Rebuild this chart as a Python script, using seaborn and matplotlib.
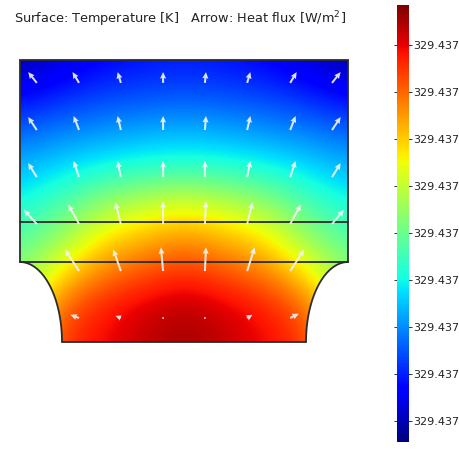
import numpy as np
import matplotlib
matplotlib.use("Agg")
import matplotlib.pyplot as plt
import seaborn as sns
from matplotlib.path import Path
from matplotlib.patches import PathPatch

sns.set_theme(style="white")
plt.rcParams["font.family"] = ["DejaVu Sans"]

# ---------------- data ----------------
TITLE = "Surface: Temperature [K]   Arrow: Heat flux [W/m$^{2}$]"

# geometry (units; 1 unit = 41 px in the reference)
DOMAIN_WIDTH = 8.0
DOMAIN_HEIGHT = 6.878
LAYER_LINES_Y = [1.951, 2.927]          # the two horizontal interfaces
FILLET_A = 1.024                        # quarter-ellipse cut-outs (x half-axis)
FILLET_B = 1.951                        # (y half-axis)

# normalized temperature levels (rows top -> bottom)
GRID_X = [0, 1, 2, 3, 4, 5, 6, 7, 8]
TEMP_LEVELS = [
    [0.04, 0.08, 0.12, 0.14, 0.15, 0.14, 0.12, 0.08, 0.04],
    [0.12, 0.16, 0.19, 0.20, 0.21, 0.20, 0.19, 0.16, 0.12],
    [0.22, 0.25, 0.27, 0.29, 0.30, 0.29, 0.27, 0.25, 0.22],
    [0.30, 0.34, 0.37, 0.39, 0.40, 0.39, 0.37, 0.34, 0.30],
    [0.37, 0.43, 0.52, 0.57, 0.61, 0.57, 0.52, 0.43, 0.37],
    [0.45, 0.53, 0.66, 0.71, 0.75, 0.71, 0.66, 0.53, 0.45],
    [0.50, 0.66, 0.77, 0.82, 0.86, 0.82, 0.77, 0.66, 0.50],
    [0.58, 0.80, 0.88, 0.92, 0.95, 0.92, 0.88, 0.80, 0.58],
    [0.62, 0.86, 0.90, 0.94, 0.97, 0.94, 0.90, 0.86, 0.62],
]
T_MIN = 329.43680
T_SPAN = 0.00040

# colorbar ticks
CBAR_TICK_FRACTIONS = [0.048, 0.156, 0.263, 0.371, 0.478, 0.586, 0.694, 0.801, 0.909]
CBAR_TICK_LABELS = ["329.437"] * 9

# heat flux arrows (tail positions, and components in px of the reference)
ARROW_X = [0.41, 1.44, 2.46, 3.49, 4.51, 5.54, 6.59, 7.61]
ARROW_Y = [6.32, 5.17, 4.02, 2.88, 1.73, 0.585]
FLUX_U = [
    [-8, -6, -3, 0, 1, 3, 6, 8],
    [-8, -5, -3, 0, 1, 3, 5, 8],
    [-8, -5, -3, 0, 0, 3, 5, 8],
    [-12, -10, -5, 0, 1, 5, 10, 11],
    [None, -13, -7, -2, 1, 7, 13, None],
    [None, -8, -5, 0, 0, 5, 8, None],
]
FLUX_V = [
    [10, 10, 10, 10, 10, 10, 10, 10],
    [12, 13, 13, 13, 13, 13, 13, 12],
    [13, 15, 15, 15, 15, 15, 15, 13],
    [13, 18, 20, 21, 21, 20, 18, 13],
    [None, 20, 20, 22, 22, 22, 20, None],
    [None, 3, 2, 0.5, 0.5, 3, 4, None],
]

# ---------------- figure ----------------
W, H = 460, 450
fig = plt.figure(figsize=(W / 100, H / 100), dpi=100)
fig.patch.set_facecolor("white")

ax = fig.add_axes([20 / W, (H - 342) / H, 328 / W, 282 / H])
ax.set_xlim(0, DOMAIN_WIDTH)
ax.set_ylim(0, DOMAIN_HEIGHT)
ax.axis("off")

# outline path of the domain
t = np.linspace(0, np.pi / 2, 60)
left_arc = np.column_stack([FILLET_A * np.sin(t), FILLET_B * np.cos(t)])
right_arc = np.column_stack([DOMAIN_WIDTH - FILLET_A * np.sin(t[::-1]),
                             FILLET_B * np.cos(t[::-1])])
verts = np.vstack([
    [[0, DOMAIN_HEIGHT], [0, FILLET_B]],
    left_arc,
    right_arc,
    [[DOMAIN_WIDTH, FILLET_B], [DOMAIN_WIDTH, DOMAIN_HEIGHT], [0, DOMAIN_HEIGHT]],
])
path = Path(verts, closed=True)

temps = T_MIN + np.array(TEMP_LEVELS) * T_SPAN
nrows = len(TEMP_LEVELS)
dy = DOMAIN_HEIGHT / (nrows - 1)
dx = (GRID_X[-1] - GRID_X[0]) / (len(GRID_X) - 1)
im = ax.imshow(temps, cmap="jet", vmin=T_MIN, vmax=T_MIN + T_SPAN,
               origin="upper", interpolation="bicubic", aspect="auto",
               extent=[GRID_X[0] - dx / 2, GRID_X[-1] + dx / 2,
                       -dy / 2, DOMAIN_HEIGHT + dy / 2])
clip = PathPatch(path, transform=ax.transData, facecolor="none", edgecolor="none")
ax.add_patch(clip)
im.set_clip_path(clip)

outline = PathPatch(path, transform=ax.transData, facecolor="none",
                    edgecolor="#2b2b2b", lw=1.3, zorder=4, clip_on=False)
ax.add_patch(outline)
for yl in LAYER_LINES_Y:
    ax.plot([0, DOMAIN_WIDTH], [yl, yl], color="#2b2b2b", lw=1.3,
            zorder=4, clip_on=False)

# arrows
X, Y = np.meshgrid(ARROW_X, ARROW_Y)
U = np.array([[np.nan if v is None else v for v in r] for r in FLUX_U], float)
V = np.array([[np.nan if v is None else v for v in r] for r in FLUX_V], float)
m = ~np.isnan(U)
ax.quiver(X[m], Y[m], U[m], V[m], angles="xy", scale_units="xy", scale=38,
          pivot="tail", color="#f4f4f4", alpha=0.9, width=0.0062,
          headwidth=3.0, headlength=3.2, headaxislength=2.9, zorder=5)

# title
fig.text(14 / W, 1 - 19 / H, TITLE, ha="left", va="center",
         fontsize=9.3, color="#222222")

# colorbar
cax = fig.add_axes([397 / W, 8 / H, 12 / W, 437 / H])
cb = fig.colorbar(im, cax=cax)
ticks = [T_MIN + f * T_SPAN for f in CBAR_TICK_FRACTIONS]
cb.set_ticks(ticks)
cb.set_ticklabels(CBAR_TICK_LABELS)
cb.outline.set_visible(False)
cax.tick_params(axis="y", which="both", left=True, right=True, direction="inout",
                length=4, width=0.7, color="#333333", labelsize=8.0,
                labelcolor="#222222", pad=1)

fig.savefig("out.png", dpi=100)
